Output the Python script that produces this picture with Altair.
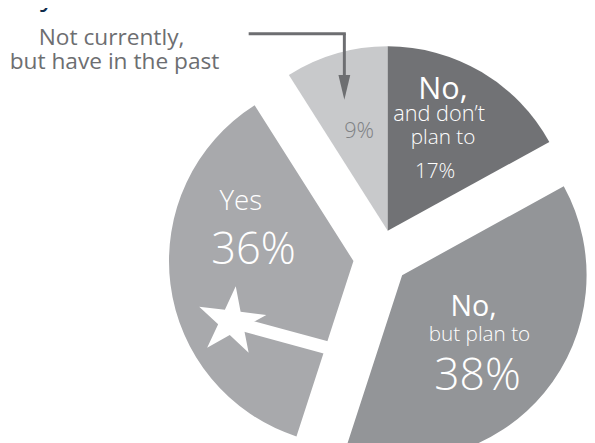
import math
import altair as alt
import pandas as pd

# ---- data ----
categories = ["Not currently, but have in the past", "No, and don’t plan to", "No, but plan to", "Yes"]
values = [9, 17, 38, 36]
explode_group = ["top", "top", "right", "left"]
slice_colors = ["#c8c9cb", "#717275", "#939598", "#a8a9ac"]
pct_labels = [f"{v}%" for v in values]

# ---- layout ----
W, H = 587, 435
CX, CY = 378, 250       # pie centre (chart px)
R = 187                 # pie radius
D = 28                  # explode distance
ROT = 2 * math.pi * values[0] / sum(values)   # first slice ends at 12 o'clock
FONT = "Open Sans"
GREY_TXT = "#6d6e71"

df = pd.DataFrame({"idx": range(len(values)), "cat": categories, "value": values, "grp": explode_group})

pie = (
    alt.Chart(df)
    .transform_window(e1="sum(value)", sort=[alt.SortField("idx")])
    .transform_calculate(e0="datum.e1 - datum.value")
    .transform_joinaggregate(gmin="min(e0)", gmax="max(e1)", groupby=["grp"])
    .transform_joinaggregate(total="sum(value)")
    .transform_calculate(ang=f"((datum.gmin + datum.gmax) / 2 / datum.total) * 2 * PI - {ROT}")
    .transform_calculate(px=f"{CX} + {D} * sin(datum.ang)", py=f"{CY} - {D} * cos(datum.ang)")
    .mark_arc(radius=R, stroke=None)
    .encode(
        theta=alt.Theta("e0:Q", stack=None, scale=alt.Scale(domain=[0, sum(values)], range=[-ROT, 2 * math.pi - ROT])),
        theta2="e1:Q",
        x=alt.X("px:Q", scale=None, axis=None),
        y=alt.Y("py:Q", scale=None, axis=None),
        color=alt.Color("cat:N", scale=alt.Scale(domain=categories, range=slice_colors), legend=None),
    )
)

one = pd.DataFrame({"k": [0]})

# magic wand through the "Yes" slice
wand = alt.Chart(one).mark_rule(color="white", strokeWidth=13, strokeCap="butt").encode(
    x=alt.value(226), y=alt.value(315), x2=alt.value(344), y2=alt.value(347)
)

# star
pts = []
for k in range(10):
    a = math.radians(-90 + 36 * k)
    r = 1.0 if k % 2 == 0 else 0.38
    pts.append(f"{r*math.cos(a):.3f},{r*math.sin(a):.3f}")
star_path = "M" + "L".join(pts) + "Z"
star = alt.Chart(one).mark_point(
    shape=star_path, filled=True, fill="white", stroke=None, opacity=1, size=5200, angle=7
).encode(x=alt.value(226.5), y=alt.value(315))

# annotation arrow
arrow_h = alt.Chart(one).mark_rule(color=GREY_TXT, strokeWidth=3).encode(
    x=alt.value(244), x2=alt.value(342.5), y=alt.value(23)
)
arrow_v = alt.Chart(one).mark_rule(color=GREY_TXT, strokeWidth=3).encode(
    x=alt.value(341), y=alt.value(23), y2=alt.value(68)
)
arrow_head = alt.Chart(one).mark_point(
    shape="M-0.48,-1L0.48,-1L0,1Z", filled=True, fill=GREY_TXT, stroke=None, opacity=1, size=625
).encode(x=alt.value(341), y=alt.value(77.5))


def txt(s, x, y, size, color="white", weight=300):
    return alt.Chart(pd.DataFrame({"t": [s]})).mark_text(
        x=x, y=y, fontSize=size, font=FONT, fontWeight=weight, color=color,
        align="center", baseline="alphabetic",
    ).encode(text="t:N")


texts = [
    # top-left navy title remnant
    txt("y", 40, -6, 30, "#0f2c4c", 400),
    # annotation
    txt("Not currently,", 105, 34, 23, GREY_TXT, 400),
    txt("but have in the past", 108, 59, 23, GREY_TXT, 400),
    # 9%
    txt(pct_labels[0], 356, 129, 22, "#808285"),
    # No, and don't plan to
    txt("No,", 441, 89, 31, "white", 400),
    txt("and don’t", 437, 112, 22),
    txt("plan to", 441, 135, 21),
    txt(pct_labels[1], 433, 169, 21),
    # No, but plan to
    txt("No,", 472, 309, 29, "white", 400),
    txt("but plan to", 478, 335, 21),
    txt(pct_labels[2], 476, 384, 45),
    # Yes
    txt("Yes", 236, 202, 28),
    txt(pct_labels[3], 249, 257, 44),
]

chart = alt.layer(pie, wand, star, arrow_h, arrow_v, arrow_head, *texts).properties(
    width=W, height=H, autosize=alt.AutoSizeParams(type="none"), padding=0
).configure_view(stroke=None)

chart.save("out.html", embed_options={"renderer": "svg", "actions": False})
